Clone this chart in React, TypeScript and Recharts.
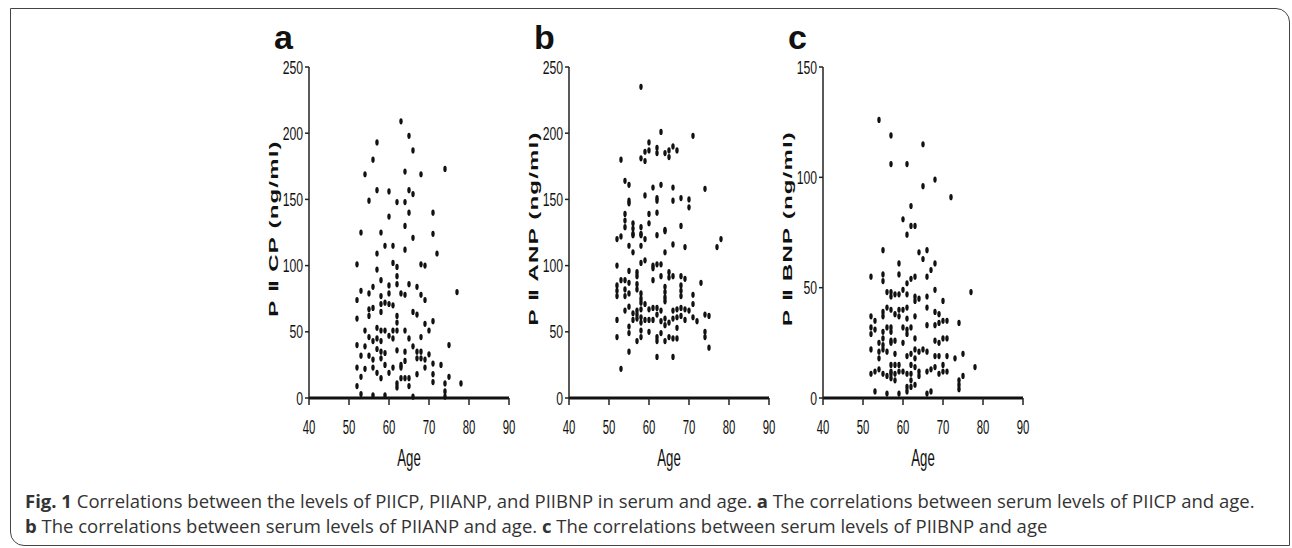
import React from "react";
import { Scatter, ScatterChart, XAxis, YAxis } from "recharts";

// tick values
const ageTicks = [40, 50, 60, 70, 80, 90];
const piicpTicks = [0, 50, 100, 150, 200, 250];
const piianpTicks = [0, 50, 100, 150, 200, 250];
const piibnpTicks = [0, 50, 100, 150];

// [age, serum level ng/ml]
const piicp: [number, number][] = [
  [63, 209], [65, 198], [57, 193], [66, 187], [56, 180], [54, 169], [64, 171], [68, 169], [74, 173],
  [57, 157], [60, 156], [65, 157], [66, 154], [55, 149], [62, 148], [64, 148], [65, 140], [71, 140],
  [60, 137], [64, 130], [53, 125], [58, 125], [66, 121], [71, 124], [59, 115], [61, 115], [64, 112],
  [57, 109], [72, 109], [52, 101], [57, 97], [61, 102], [62, 99], [68, 101], [69, 100], [62, 92],
  [58, 89], [62, 86], [65, 86], [53, 81], [56, 84], [60, 85], [60, 79], [55, 79], [63, 79], [64, 78],
  [67, 84], [68, 78], [69, 74], [77, 80], [52, 74], [58, 77], [58, 71], [59, 72], [60, 71], [61, 70],
  [55, 67], [55, 62], [56, 68], [58, 65], [62, 62], [62, 57], [66, 65], [67, 63], [52, 60], [54, 51],
  [57, 53], [57, 45], [58, 51], [58, 43], [59, 51], [61, 51], [62, 51], [64, 51], [69, 56], [70, 51],
  [71, 58], [55, 46], [60, 47], [61, 45], [65, 45], [68, 46], [52, 40], [54, 39], [56, 43], [57, 37],
  [58, 35], [59, 34], [62, 36], [64, 35], [66, 39], [67, 35], [67, 30], [68, 35], [68, 30], [75, 40],
  [53, 32], [55, 32], [56, 29], [58, 30], [59, 25], [63, 25], [64, 28], [69, 29], [70, 33], [71, 26],
  [73, 25], [52, 23], [54, 22], [56, 23], [57, 19], [58, 15], [60, 19], [61, 23], [63, 23], [63, 15],
  [64, 15], [65, 15], [67, 18], [69, 23], [71, 18], [75, 16], [53, 16], [52, 9], [62, 11], [62, 8],
  [65, 9], [71, 12], [74, 11], [78, 11], [53, 3], [56, 2], [59, 2], [66, 1], [74, 5], [74, 1],
];

const piianp: [number, number][] = [
  [58, 235], [63, 201], [71, 198], [60, 193], [59, 186], [60, 187], [62, 189], [62, 185], [64, 185],
  [65, 182], [65, 187], [66, 190], [67, 187], [53, 180], [58, 181], [59, 179], [54, 164], [55, 161],
  [61, 159], [63, 161], [66, 159], [74, 158], [55, 149], [55, 147], [59, 153], [62, 151], [62, 149],
  [66, 149], [68, 151], [70, 150], [70, 144], [54, 139], [60, 139], [62, 140], [54, 134], [54, 129],
  [56, 132], [56, 128], [56, 123], [58, 129], [58, 123], [60, 132], [64, 127], [68, 130], [52, 120],
  [53, 122], [59, 120], [62, 123], [78, 120], [56, 124], [58, 124], [64, 126], [55, 115], [56, 110],
  [58, 115], [64, 110], [66, 116], [69, 114], [77, 114], [52, 100], [55, 96], [57, 95], [57, 92],
  [58, 102], [59, 104], [61, 100], [61, 98], [62, 101], [63, 101], [63, 92], [65, 95], [65, 91],
  [66, 92], [68, 92], [69, 90], [53, 89], [54, 89], [55, 87], [52, 85], [52, 81], [52, 77], [54, 82],
  [54, 77], [55, 79], [57, 86], [57, 82], [58, 79], [58, 75], [58, 72], [61, 89], [64, 84], [64, 80],
  [64, 76], [64, 73], [68, 85], [68, 81], [68, 77], [71, 78], [71, 71], [73, 87], [54, 66], [55, 69],
  [56, 64], [56, 59], [57, 66], [57, 63], [57, 60], [58, 67], [58, 61], [58, 57], [59, 71], [59, 59],
  [60, 67], [60, 59], [61, 68], [61, 59], [62, 68], [62, 63], [63, 66], [63, 58], [64, 60], [64, 55],
  [65, 57], [66, 66], [66, 60], [67, 67], [67, 61], [68, 68], [68, 62], [69, 67], [69, 59], [70, 66],
  [71, 61], [72, 58], [74, 63], [75, 62], [52, 59], [52, 46], [55, 54], [55, 49], [58, 51], [58, 46],
  [57, 43], [60, 50], [62, 46], [62, 43], [63, 49], [64, 43], [65, 46], [66, 45], [67, 53], [67, 45],
  [74, 50], [74, 46], [75, 38], [55, 35], [62, 31], [66, 31], [53, 22],
];

const piibnp: [number, number][] = [
  [54, 126], [57, 119], [65, 115], [57, 106], [61, 106], [68, 99], [65, 96], [72, 91], [62, 87],
  [60, 81], [62, 78], [63, 78], [61, 74], [55, 67], [64, 66], [66, 67], [65, 63], [59, 61], [68, 61],
  [67, 58], [52, 55], [55, 56], [55, 53], [59, 56], [62, 54], [63, 55], [66, 55], [61, 52], [60, 49],
  [56, 48], [57, 48], [58, 47], [59, 47], [57, 46], [61, 47], [63, 46], [63, 44], [64, 45], [66, 46],
  [68, 49], [70, 44], [77, 48], [56, 41], [57, 40], [59, 40], [60, 40], [61, 41], [58, 38], [59, 37],
  [61, 36], [63, 37], [66, 41], [68, 39], [69, 38], [70, 35], [71, 35], [52, 37], [53, 35], [55, 39],
  [55, 37], [52, 32], [52, 29], [53, 31], [55, 30], [55, 27], [56, 32], [57, 32], [57, 30], [57, 26],
  [57, 25], [60, 32], [61, 31], [61, 29], [62, 32], [66, 33], [68, 33], [69, 34], [63, 27], [58, 26],
  [68, 26], [69, 25], [70, 27], [71, 27], [74, 34], [54, 25], [52, 22], [55, 24], [55, 22], [56, 21],
  [54, 21], [54, 18], [58, 20], [60, 25], [61, 19], [62, 20], [63, 22], [64, 21], [65, 22], [66, 21],
  [68, 19], [69, 19], [71, 19], [73, 18], [75, 20], [70, 15], [67, 13], [68, 14], [78, 14], [52, 11],
  [53, 12], [54, 13], [55, 11], [56, 10], [57, 11], [57, 15], [57, 12], [57, 9], [58, 15], [58, 11],
  [58, 8], [59, 15], [59, 12], [60, 12], [61, 11], [62, 15], [62, 11], [62, 8], [63, 18], [63, 14],
  [64, 12], [64, 10], [66, 12], [69, 11], [70, 12], [71, 12], [74, 8], [74, 6], [74, 4], [75, 10],
  [53, 3], [56, 2], [59, 2], [61, 3], [61, 5], [62, 5], [63, 6], [66, 2], [67, 3],
];

const AXIS_FONT = '"Liberation Sans", Arial, sans-serif';

const Dot = (props: any) => (
  <ellipse cx={props.cx} cy={props.cy} rx={1.7} ry={3.1} fill="#111" />
);

const AgeTick = ({ x, y, payload }: any) => (
  <g transform={`translate(${x},${y})`}>
    <text transform="scale(0.54,1)" y={27} textAnchor="middle" fontSize={21} fill="#111" fontFamily={AXIS_FONT}>
      {payload.value}
    </text>
  </g>
);

const LevelTick = ({ x, y, payload }: any) => (
  <g transform={`translate(${x},${y})`}>
    <text transform="scale(0.66,1)" y={6.5} textAnchor="end" fontSize={18.5} fill="#111" fontFamily={AXIS_FONT}>
      {payload.value}
    </text>
  </g>
);

type PanelProps = {
  left: number;
  letter: string;
  title: string;
  yMax: number;
  yTicks: number[];
  rows: [number, number][];
};

function Panel({ left, letter, title, yMax, yTicks, rows }: PanelProps) {
  const data = rows.map(([age, level]) => ({ age, level }));
  return (
    <div style={{ position: "absolute", left, top: 0, width: 300, height: 548 }}>
      <div
        style={{
          position: "absolute",
          left: 44,
          top: 20,
          fontFamily: AXIS_FONT,
          fontWeight: "bold",
          fontSize: 34,
          lineHeight: "34px",
          color: "#111",
        }}
      >
        {letter}
      </div>
      <ScatterChart width={300} height={548} margin={{ top: 67, right: 21, bottom: 110, left: 29 }}>
        <XAxis
          type="number"
          dataKey="age"
          domain={[40, 90]}
          ticks={ageTicks}
          interval={0}
          height={40}
          tickSize={7}
          axisLine={{ stroke: "#111", strokeWidth: 3 }}
          tickLine={{ stroke: "#222", strokeWidth: 1.5 }}
          tick={<AgeTick />}
          label={(p: any) => {
            const vb = p.viewBox;
            return (
              <text
                transform={`translate(${vb.x + vb.width / 2},${vb.y + 68}) scale(0.55,1)`}
                textAnchor="middle"
                fontSize={24}
                fill="#111"
                fontFamily={AXIS_FONT}
              >
                Age
              </text>
            );
          }}
        />
        <YAxis
          type="number"
          dataKey="level"
          domain={[0, yMax]}
          ticks={yTicks}
          interval={0}
          width={50}
          tickSize={4}
          axisLine={{ stroke: "#222", strokeWidth: 1.5 }}
          tickLine={{ stroke: "#222", strokeWidth: 1.5 }}
          tick={<LevelTick />}
          label={(p: any) => {
            const vb = p.viewBox;
            const cx = vb.x + vb.width - 35;
            const cy = vb.y + vb.height / 2 - 4;
            return (
              <text
                transform={`translate(${cx},${cy}) scale(0.5,1) rotate(-90)`}
                textAnchor="middle"
                dominantBaseline="central"
                fontSize={24}
                fontWeight="bold"
                letterSpacing={1.2}
                fill="#111"
                fontFamily={AXIS_FONT}
              >
                {title}
              </text>
            );
          }}
        />
        <Scatter data={data} shape={Dot} fill="#111" isAnimationActive={false} />
      </ScatterChart>
    </div>
  );
}

export default function App() {
  return (
    <div style={{ position: "absolute", left: 0, top: 0, width: 1292, height: 548, background: "#fff", overflow: "hidden" }}>
      <div
        style={{
          position: "absolute",
          left: 10,
          top: 8,
          width: 1280,
          height: 538,
          border: "1.5px solid #444",
          borderRadius: "0 14px 0 14px",
          boxSizing: "border-box",
        }}
      />
      <Panel left={230} letter="a" title="P Ⅱ CP (ng/ml)" yMax={250} yTicks={piicpTicks} rows={piicp} />
      <Panel left={490} letter="b" title="P Ⅱ ANP (ng/ml)" yMax={250} yTicks={piianpTicks} rows={piianp} />
      <Panel left={744} letter="c" title="P Ⅱ BNP (ng/ml)" yMax={150} yTicks={piibnpTicks} rows={piibnp} />
      <div
        style={{
          position: "absolute",
          left: 25,
          top: 488,
          fontFamily: '"Open Sans", sans-serif',
          fontSize: 18.5,
          lineHeight: "25.4px",
          color: "#333",
          whiteSpace: "nowrap",
        }}
      >
        <div>
          <b>Fig. 1</b> Correlations between the levels of PIICP, PIIANP, and PIIBNP in serum and age. <b>a</b> The
          correlations between serum levels of PIICP and age.
        </div>
        <div>
          <b>b</b> The correlations between serum levels of PIIANP and age. <b>c</b> The correlations between serum
          levels of PIIBNP and age
        </div>
      </div>
    </div>
  );
}
